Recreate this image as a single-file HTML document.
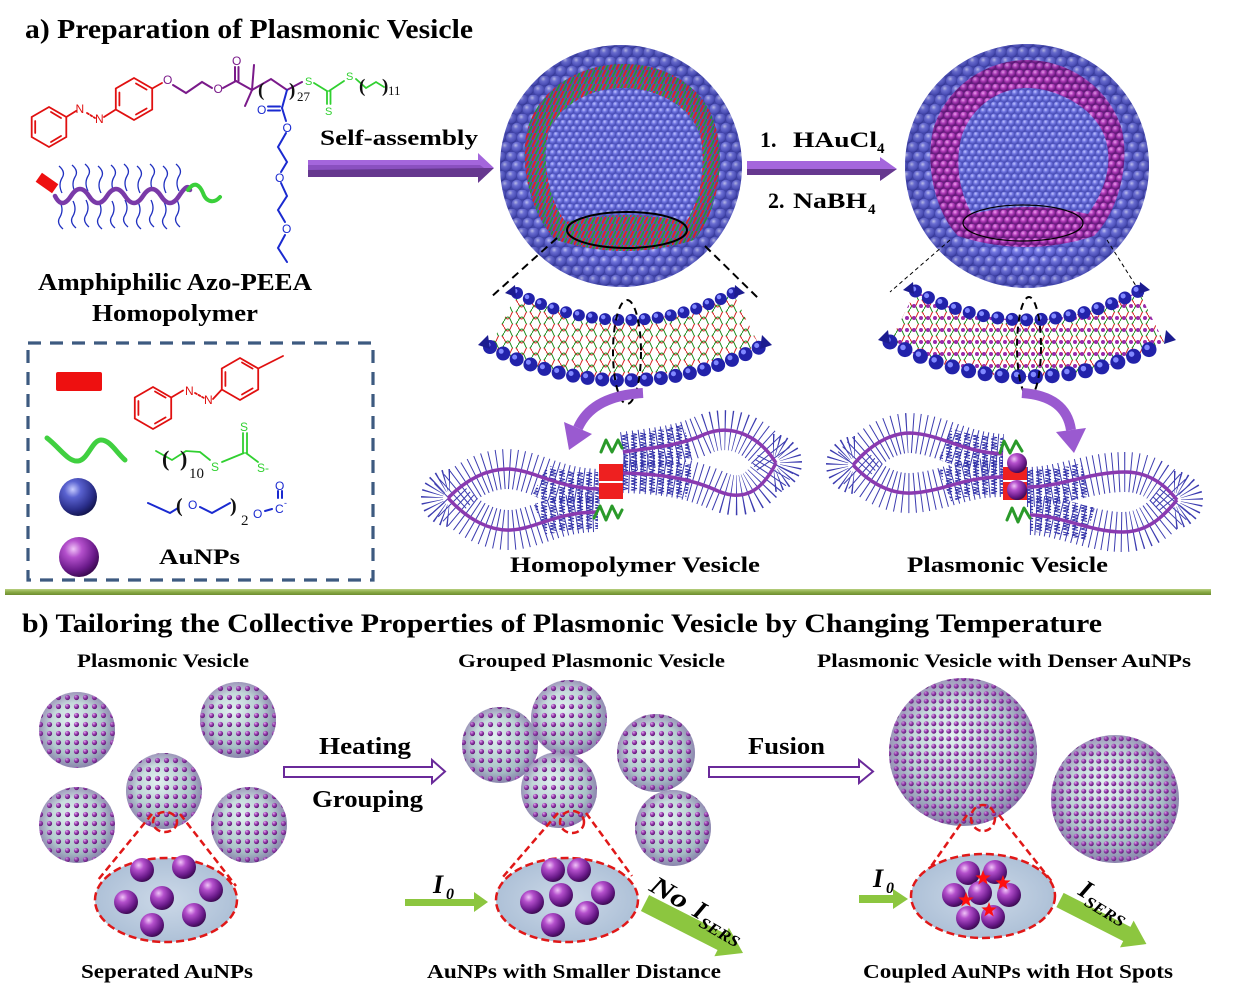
<!DOCTYPE html>
<html><head><meta charset="utf-8"><style>
html,body{margin:0;padding:0;background:#fff;}
svg{display:block;font-family:"Liberation Serif","Times New Roman",Times,serif;font-weight:bold;}
.sans{font-family:"Liberation Sans",Arial,sans-serif;font-weight:normal;}
.nw{font-weight:normal;}
</style></head><body>
<svg xmlns="http://www.w3.org/2000/svg" width="1235" height="999" viewBox="0 0 1235 999">
<defs>
 <radialGradient id="bball" cx="0.38" cy="0.32" r="0.7">
  <stop offset="0" stop-color="#d2d4ff"/><stop offset="0.35" stop-color="#7a7ee8"/><stop offset="0.8" stop-color="#5559c8"/><stop offset="1" stop-color="#3a3ea0"/>
 </radialGradient>
 <radialGradient id="bball2" cx="0.38" cy="0.32" r="0.7">
  <stop offset="0" stop-color="#c0c4ff"/><stop offset="0.45" stop-color="#7176e2"/><stop offset="1" stop-color="#4448b0"/>
 </radialGradient>
 <radialGradient id="mball" cx="0.38" cy="0.32" r="0.7">
  <stop offset="0" stop-color="#f0a0f0"/><stop offset="0.45" stop-color="#b03ab8"/><stop offset="1" stop-color="#5a1070"/>
 </radialGradient>
 <pattern id="pBlue" width="11" height="19" patternUnits="userSpaceOnUse">
  <rect width="11" height="19" fill="#4a4eb8"/>
  <circle cx="5.5" cy="4.75" r="5.4" fill="url(#bball)"/>
  <circle cx="0" cy="14.25" r="5.4" fill="url(#bball)"/>
  <circle cx="11" cy="14.25" r="5.4" fill="url(#bball)"/>
 </pattern>
 <pattern id="pBlue2" width="7" height="12" patternUnits="userSpaceOnUse">
  <rect width="7" height="12" fill="#4e54bc"/>
  <circle cx="3.5" cy="3" r="3.4" fill="url(#bball2)"/>
  <circle cx="0" cy="9" r="3.4" fill="url(#bball2)"/>
  <circle cx="7" cy="9" r="3.4" fill="url(#bball2)"/>
 </pattern>
 <pattern id="pMag" width="8" height="14" patternUnits="userSpaceOnUse">
  <rect width="8" height="14" fill="#6a2080"/>
  <circle cx="4" cy="3.5" r="3.9" fill="url(#mball)"/>
  <circle cx="0" cy="10.5" r="3.9" fill="url(#mball)"/>
  <circle cx="8" cy="10.5" r="3.9" fill="url(#mball)"/>
 </pattern>
 <pattern id="pRG" width="7" height="7" patternUnits="userSpaceOnUse">
  <rect width="7" height="7" fill="#5a56b0"/>
  <path d="M0,7 L3.5,0" stroke="#e82222" stroke-width="1.8"/>
  <path d="M3.5,7 L7,0" stroke="#28a428" stroke-width="1.6"/>
 </pattern>
 <radialGradient id="shadeA" cx="0.5" cy="0.5" r="0.5">
  <stop offset="0.7" stop-color="#101050" stop-opacity="0"/><stop offset="1" stop-color="#101050" stop-opacity="0.22"/>
 </radialGradient>
 <pattern id="pBil" width="14" height="12" patternUnits="userSpaceOnUse">
  <path d="M0,3 Q4,11 7,3 T14,3" fill="none" stroke="#d42020" stroke-width="1"/>
  <path d="M0,9 Q4,1 7,9 T14,9" fill="none" stroke="#1a8a1a" stroke-width="1"/>
 </pattern>
 <pattern id="pBil2" width="14" height="12" patternUnits="userSpaceOnUse">
  <path d="M0,3 Q4,11 7,3 T14,3" fill="none" stroke="#d42020" stroke-width="1"/>
  <path d="M0,9 Q4,1 7,9 T14,9" fill="none" stroke="#1a8a1a" stroke-width="1"/>
  <circle cx="4" cy="6" r="2" fill="#9a2aaa"/>
  <circle cx="11" cy="6" r="2" fill="#9a2aaa"/>
 </pattern>
 <pattern id="pCoil" width="9" height="9" patternUnits="userSpaceOnUse">
  <path d="M1,1 L7,2.5 L1,4 L7,5.5 L1,7 L7,8.5" fill="none" stroke="#3030a8" stroke-width="1"/>
 </pattern>
 <radialGradient id="gTeal" cx="0.42" cy="0.38" r="0.65">
  <stop offset="0" stop-color="#e2f0f0"/><stop offset="0.55" stop-color="#b6ced0"/><stop offset="1" stop-color="#92aab6"/>
 </radialGradient>
 <radialGradient id="pdot" cx="0.35" cy="0.3" r="0.7">
  <stop offset="0" stop-color="#e4b0f0"/><stop offset="0.5" stop-color="#9a3cb0"/><stop offset="1" stop-color="#5a1a70"/>
 </radialGradient>
 <pattern id="pDot" width="9" height="9" patternUnits="userSpaceOnUse">
  <circle cx="4.5" cy="4.5" r="2.6" fill="url(#pdot)"/>
 </pattern>
 <pattern id="pDot2" width="7.5" height="7.5" patternUnits="userSpaceOnUse">
  <circle cx="3.75" cy="3.75" r="2.5" fill="url(#pdot)"/>
 </pattern>
 <radialGradient id="edgeB" cx="0.5" cy="0.5" r="0.5">
  <stop offset="0.72" stop-color="#7a3a9a" stop-opacity="0"/><stop offset="1" stop-color="#7a3a9a" stop-opacity="0.35"/>
 </radialGradient>
 <radialGradient id="gPur" cx="0.36" cy="0.3" r="0.72">
  <stop offset="0" stop-color="#f0c4f8"/><stop offset="0.3" stop-color="#b450cc"/><stop offset="0.75" stop-color="#6a1a8a"/><stop offset="1" stop-color="#3c0a52"/>
 </radialGradient>
 <radialGradient id="gBlueBall" cx="0.36" cy="0.3" r="0.72">
  <stop offset="0" stop-color="#c8ccff"/><stop offset="0.3" stop-color="#5a62d0"/><stop offset="0.75" stop-color="#2a2e8a"/><stop offset="1" stop-color="#141650"/>
 </radialGradient>
 <linearGradient id="gLine" x1="0" y1="0" x2="0" y2="1">
  <stop offset="0" stop-color="#b8cf80"/><stop offset="0.5" stop-color="#8aab45"/><stop offset="1" stop-color="#6d8c30"/>
 </linearGradient>
 <radialGradient id="gEll" cx="0.5" cy="0.5" r="0.6">
  <stop offset="0" stop-color="#ccd9e8"/><stop offset="1" stop-color="#a8bcd4"/>
 </radialGradient>
 <path id="hu" d="M0,0 q-4,-8 0,-15 q4,-6 -3,-12" fill="none" stroke="#2030c0" stroke-width="1.3"/>
 <path id="hd" d="M0,0 q4,8 0,15 q-4,6 3,12" fill="none" stroke="#2030c0" stroke-width="1.3"/>
 <polygon id="star" points="0,-8 1.94,-2.67 7.61,-2.47 3.14,1.02 4.70,6.47 0,3.3 -4.70,6.47 -3.14,1.02 -7.61,-2.47 -1.94,-2.67" fill="#ff1010"/>
</defs>

<rect width="1235" height="999" fill="#fff"/>

<!-- ============ PART A ============ -->
<text x="25" y="38" font-size="27" textLength="448" lengthAdjust="spacingAndGlyphs">a) Preparation  of  Plasmonic  Vesicle</text>

<!-- chemical structure -->
<g fill="none" stroke-linecap="round" stroke-width="1.8">
 <g stroke="#e01010">
  <polygon points="49,107 66.3,117 66.3,137 49,147 31.7,137 31.7,117"/>
  <line x1="51" y1="112" x2="61" y2="118"/><line x1="61" y1="136" x2="51" y2="142"/><line x1="35.2" y1="133" x2="35.2" y2="121"/>
  <line x1="66.3" y1="117" x2="76" y2="111"/>
  <line x1="87" y1="113" x2="95" y2="118" stroke-dasharray="2 2"/>
  <line x1="104" y1="117" x2="115.8" y2="109.5"/>
  <polygon points="134,78 152.2,88.5 152.2,109.5 134,120 115.8,109.5 115.8,88.5"/>
  <line x1="136" y1="83.5" x2="146.6" y2="89.6"/><line x1="146.6" y1="108.5" x2="136" y2="114.5"/><line x1="119.4" y1="105.5" x2="119.4" y2="92.5"/>
  <line x1="152.2" y1="88.5" x2="162" y2="83"/>
 </g>
 <g stroke="#7a1a8a" stroke-width="2">
  <polyline points="173,85 186,93 202,82 212,88"/>
  <line x1="223" y1="88" x2="236" y2="81"/>
  <line x1="235" y1="81" x2="235" y2="67"/><line x1="238.5" y1="81" x2="238.5" y2="67"/>
  <line x1="236" y1="81" x2="252" y2="90"/>
  <line x1="252" y1="90" x2="254" y2="65"/>
  <line x1="252" y1="90" x2="245" y2="106"/>
  <polyline points="252,90 271,79 287,90 302,82"/>
 </g>
 <g stroke="#30d030">
  <line x1="314" y1="83" x2="327" y2="91"/>
  <line x1="327" y1="91" x2="327" y2="104"/><line x1="330.5" y1="91" x2="330.5" y2="104"/>
  <line x1="329" y1="91" x2="344" y2="81"/>
  <polyline points="356,79 366,88 376,82 384,87"/>
 </g>
 <g stroke="#1a2ad0" stroke-width="2">
  <line x1="287" y1="90" x2="282" y2="108"/>
  <line x1="268" y1="106.5" x2="280" y2="106.5"/><line x1="268" y1="110.5" x2="280" y2="110.5"/>
  <line x1="282" y1="108" x2="286" y2="121"/>
  <polyline points="286,133 278,147 287,162 281,172"/>
  <polyline points="281,183 287,196 278,210 285,222"/>
  <polyline points="285,235 278,248 287,262"/>
 </g>
</g>
<g font-size="12">
 <text class="sans" x="75.5" y="113" fill="#e01010">N</text>
 <text class="sans" x="95" y="123" fill="#e01010">N</text>
 <text class="sans" x="163" y="84" fill="#7a1a8a">O</text>
 <text class="sans" x="213.5" y="93" fill="#7a1a8a">O</text>
 <text class="sans" x="232" y="65" fill="#7a1a8a">O</text>
 <text class="sans" x="305" y="85" fill="#30d030" font-size="11">S</text>
 <text class="sans" x="325" y="115" fill="#30d030" font-size="11">S</text>
 <text class="sans" x="346" y="80" fill="#30d030" font-size="11">S</text>
 <text class="sans" x="257" y="114" fill="#1a2ad0">O</text>
 <text class="sans" x="282.5" y="132" fill="#1a2ad0">O</text>
 <text class="sans" x="275" y="182" fill="#1a2ad0">O</text>
 <text class="sans" x="282" y="233" fill="#1a2ad0">O</text>
</g>
<g font-size="19" fill="#111">
 <text x="258" y="96">(</text><text x="289" y="96">)</text>
 <text x="359" y="92">(</text><text x="382" y="92">)</text>
</g>
<g font-size="13" fill="#111">
 <text class="nw" x="297" y="101">27</text>
 <text class="nw" x="388" y="95">11</text>
</g>

<!-- polymer cartoon -->
<g>
 <use href="#hu" x="62" y="193"/><use href="#hu" x="75" y="192"/><use href="#hu" x="88" y="191"/><use href="#hu" x="101" y="193"/><use href="#hu" x="114" y="192"/><use href="#hu" x="127" y="191"/><use href="#hu" x="140" y="193"/><use href="#hu" x="153" y="191"/><use href="#hu" x="166" y="193"/><use href="#hu" x="179" y="191"/>
 <use href="#hd" x="60" y="202"/><use href="#hd" x="73" y="201"/><use href="#hd" x="86" y="200"/><use href="#hd" x="99" y="202"/><use href="#hd" x="112" y="201"/><use href="#hd" x="125" y="200"/><use href="#hd" x="138" y="202"/><use href="#hd" x="151" y="200"/><use href="#hd" x="164" y="202"/><use href="#hd" x="177" y="200"/>
 <path d="M55,196 Q62,210 71,196 T89,196 T107,196 T125,196 T143,196 T161,196 T179,196 T190,190" fill="none" stroke="#7a3aa8" stroke-width="4.5" stroke-linecap="round"/>
 <path d="M188,190 C195,180 200,186 203,193 C206,202 214,204 220,197" fill="none" stroke="#3ad03a" stroke-width="4" stroke-linecap="round"/>
 <rect x="37" y="177.5" width="20" height="11" fill="#ee1010" transform="rotate(35 47 183)"/>
</g>

<text x="38" y="290" font-size="24" textLength="274" lengthAdjust="spacingAndGlyphs">Amphiphilic Azo-PEEA</text>
<text x="92" y="321" font-size="24" textLength="166" lengthAdjust="spacingAndGlyphs">Homopolymer</text>

<!-- self-assembly arrow -->
<text x="320" y="145" font-size="22" textLength="158" lengthAdjust="spacingAndGlyphs">Self-assembly</text>
<polygon points="308,160 478,160 478,153 494,168 308,168" fill="#a466dc"/>
<polygon points="308,168 494,168 478,183 478,177 308,177" fill="#66388f"/>
<polygon points="308,165 480,165 484,168 308,170" fill="#8a50c0"/>

<!-- HAuCl4 arrow -->
<text x="760" y="147" font-size="22">1.</text>
<text x="793" y="147" font-size="22" textLength="84" lengthAdjust="spacingAndGlyphs">HAuCl</text>
<text x="877" y="153" font-size="15">4</text>
<text x="768" y="208" font-size="22">2.</text>
<text x="793" y="208" font-size="22" textLength="74" lengthAdjust="spacingAndGlyphs">NaBH</text>
<text x="868" y="214" font-size="15">4</text>
<polygon points="747,161 880,161 880,157 897,169 747,169" fill="#a466dc"/>
<polygon points="747,169 897,169 880,181 880,175 747,175" fill="#66388f"/>

<!-- sphere 1 -->
<circle cx="621" cy="166" r="121" fill="url(#pBlue)"/>
<path d="M556,240 C530,215 518,160 528,128 C540,88 580,64 624,64 C668,64 706,88 716,128 C726,165 716,215 694,240 Q625,262 556,240 Z" fill="url(#pRG)"/>
<path d="M566,222 C548,200 542,160 548,135 C558,105 590,88 623,88 C656,88 690,105 700,135 C706,160 702,200 686,222 Q626,208 566,222 Z" fill="url(#pBlue2)"/>
<circle cx="621" cy="166" r="121" fill="url(#shadeA)"/>
<ellipse cx="627" cy="230" rx="60" ry="18" fill="none" stroke="#000" stroke-width="2"/>

<!-- sphere 2 -->
<circle cx="1027" cy="166" r="122" fill="url(#pBlue)"/>
<path d="M958,236 C935,212 925,165 933,130 C945,88 985,60 1027,60 C1069,60 1110,88 1122,130 C1130,165 1118,212 1094,236 Q1026,258 958,236 Z" fill="url(#pMag)"/>
<path d="M972,214 C958,190 955,160 962,135 C973,105 1000,88 1027,88 C1054,88 1092,105 1104,135 C1114,160 1106,190 1088,214 Q1030,200 972,214 Z" fill="url(#pBlue2)"/>
<circle cx="1027" cy="166" r="122" fill="url(#shadeA)"/>
<ellipse cx="1023" cy="223" rx="60" ry="18" fill="none" stroke="#000" stroke-width="1.2"/>

<!-- dashed zoom lines -->
<g stroke="#000" fill="none">
 <line x1="557" y1="238" x2="490" y2="298" stroke-width="2" stroke-dasharray="8 5"/>
 <line x1="705" y1="246" x2="758" y2="298" stroke-width="2" stroke-dasharray="8 5"/>
 <line x1="950" y1="240" x2="890" y2="292" stroke-width="1" stroke-dasharray="4 3"/>
 <line x1="1107" y1="240" x2="1143" y2="297" stroke-width="1" stroke-dasharray="4 3"/>
</g>

<!-- bilayer 1 -->
<path d="M517,293 A230,230 0 0 0 733,293 L760,347 A290,290 0 0 1 490,347 Z" fill="url(#pBil)"/>
<path d="M517,293 A230,230 0 0 0 733,293" fill="none" stroke="#2222aa" stroke-width="12" stroke-dasharray="0 13.2" stroke-linecap="round"/>
<path d="M517,293 A230,230 0 0 0 733,293" fill="none" stroke="#8088ff" stroke-width="4.5" stroke-dasharray="0 13.2" stroke-linecap="round" transform="translate(-1.8,-2)"/>
<path d="M490,347 A290,290 0 0 0 760,347" fill="none" stroke="#2222aa" stroke-width="14" stroke-dasharray="0 14.7" stroke-linecap="round"/>
<path d="M490,347 A290,290 0 0 0 760,347" fill="none" stroke="#8088ff" stroke-width="5" stroke-dasharray="0 14.7" stroke-linecap="round" transform="translate(-2,-2.2)"/>
<path d="M478,345 l10,-10 l2,14 z M505,293 l10,-8 l1,12 z M772,345 l-10,-10 l-2,14 z M745,293 l-10,-8 l-1,12 z" fill="#1c1c90"/>
<ellipse cx="627" cy="352" rx="14" ry="52" fill="none" stroke="#000" stroke-width="2" stroke-dasharray="7 5"/>

<!-- bilayer 2 -->
<path d="M915.5,291 A230,230 0 0 0 1138.5,291 L1164,342 A287,287 0 0 1 890,342 Z" fill="url(#pBil2)"/>
<path d="M915.5,291 A230,230 0 0 0 1138.5,291" fill="none" stroke="#2222aa" stroke-width="13" stroke-dasharray="0 14.5" stroke-linecap="round"/>
<path d="M915.5,291 A230,230 0 0 0 1138.5,291" fill="none" stroke="#8088ff" stroke-width="5" stroke-dasharray="0 14.5" stroke-linecap="round" transform="translate(-1.8,-2)"/>
<path d="M890,342 A287,287 0 0 0 1164,342" fill="none" stroke="#2222aa" stroke-width="15" stroke-dasharray="0 16.8" stroke-linecap="round"/>
<path d="M890,342 A287,287 0 0 0 1164,342" fill="none" stroke="#8088ff" stroke-width="5.5" stroke-dasharray="0 16.8" stroke-linecap="round" transform="translate(-2,-2.2)"/>
<path d="M878,340 l10,-10 l2,14 z M903,290 l10,-8 l1,12 z M1176,340 l-10,-10 l-2,14 z M1150,290 l-10,-8 l-1,12 z" fill="#1c1c90"/>
<ellipse cx="1029" cy="347" rx="12" ry="50" fill="none" stroke="#000" stroke-width="2" stroke-dasharray="7 5"/>

<!-- curved arrows -->
<path d="M643,393 Q592,396 578,428" fill="none" stroke="#9a5ad0" stroke-width="10"/>
<polygon points="592,434 564,422 569,450" fill="#9a5ad0"/>
<path d="M1022,393 Q1066,396 1071,430" fill="none" stroke="#9a5ad0" stroke-width="10"/>
<polygon points="1086,428 1056,432 1074,453" fill="#9a5ad0"/>

<!-- vesicle cartoon 1 -->
<g fill="none" stroke="#3c3cb0" stroke-width="40" stroke-dasharray="1 4.8">
 <path d="M448,498 C468,478 488,469 508,469 C535,470 555,488 599,489"/>
 <path d="M448,498 C468,520 490,531 511,530 C535,529 556,512 598,512"/>
 <path d="M623,452 C650,448 680,446 705,434 C735,422 762,440 776,463"/>
 <path d="M623,473 C660,474 690,478 718,491 C748,504 765,485 776,463"/>
</g>
<g fill="none" stroke="#3c3cb0" stroke-width="22" stroke-dasharray="1 3.5">
 <path d="M450,480 A18,18 0 0 0 450,516"/>
 <path d="M773,445 A18,18 0 0 1 773,481"/>
</g>
<g fill="none" stroke="url(#pCoil)" stroke-width="34">
 <path d="M540,480 C560,490 580,490 599,489"/>
 <path d="M540,520 C560,512 580,512 598,512"/>
 <path d="M623,452 C645,449 665,447 688,441"/>
 <path d="M623,473 C645,474 665,476 690,482"/>
</g>
<g fill="none" stroke="#8a3ab0" stroke-width="3.5">
 <path d="M448,498 C468,478 488,469 508,469 C535,470 555,488 599,489"/>
 <path d="M448,498 C468,520 490,531 511,530 C535,529 556,512 598,512"/>
 <path d="M623,452 C650,448 680,446 705,434 C735,422 762,440 776,463"/>
 <path d="M623,473 C660,474 690,478 718,491 C748,504 765,485 776,463"/>
</g>
<rect x="599" y="464" width="24" height="17" fill="#ee2020"/>
<rect x="599" y="483" width="24" height="16" fill="#ee2020"/>
<g fill="none" stroke="#2a9a2a" stroke-width="3" stroke-linejoin="round" stroke-linecap="round">
 <path d="M601,452 L606,440 L612,452 L618,440 L622,448"/>
 <path d="M594,518 L600,506 L606,520 L612,506 L618,518 L622,510"/>
</g>
<text x="510" y="572" font-size="22" textLength="250" lengthAdjust="spacingAndGlyphs">Homopolymer Vesicle</text>

<!-- vesicle cartoon 2 -->
<g fill="none" stroke="#3c3cb0" stroke-width="40" stroke-dasharray="1 4.8">
 <path d="M853,465 C870,445 890,433 910,433 C940,434 962,452 1003,454"/>
 <path d="M853,465 C872,485 892,494 912,493 C945,491 962,477 1003,477"/>
 <path d="M1027,487 C1060,487 1090,472 1125,472 C1150,472 1166,486 1177,500"/>
 <path d="M1030,515 C1060,515 1090,532 1123,532 C1150,532 1166,513 1177,500"/>
</g>
<g fill="none" stroke="#3c3cb0" stroke-width="22" stroke-dasharray="1 3.5">
 <path d="M855,447 A18,18 0 0 0 855,483"/>
 <path d="M1174,482 A18,18 0 0 1 1174,518"/>
</g>
<g fill="none" stroke="url(#pCoil)" stroke-width="34">
 <path d="M945,444 C965,452 985,454 1003,454"/>
 <path d="M945,486 C965,478 985,477 1003,477"/>
 <path d="M1027,487 C1045,487 1065,485 1085,480"/>
 <path d="M1030,515 C1050,515 1070,518 1090,524"/>
</g>
<g fill="none" stroke="#8a3ab0" stroke-width="3.5">
 <path d="M853,465 C870,445 890,433 910,433 C940,434 962,452 1003,454"/>
 <path d="M853,465 C872,485 892,494 912,493 C945,491 962,477 1003,477"/>
 <path d="M1027,487 C1060,487 1090,472 1125,472 C1150,472 1166,486 1177,500"/>
 <path d="M1030,515 C1060,515 1090,532 1123,532 C1150,532 1166,513 1177,500"/>
</g>
<rect x="1003" y="467" width="24" height="13" fill="#ee2020"/>
<rect x="1003" y="482" width="24" height="18" fill="#ee2020"/>
<circle cx="1017" cy="463" r="10" fill="url(#gPur)"/>
<circle cx="1017" cy="490" r="10" fill="url(#gPur)"/>
<g fill="none" stroke="#2a9a2a" stroke-width="3" stroke-linejoin="round" stroke-linecap="round">
 <path d="M1000,453 L1004,441 L1010,453 L1016,441 L1022,451"/>
 <path d="M1007,520 L1012,508 L1018,522 L1024,508 L1030,518"/>
</g>
<text x="907" y="572" font-size="22" textLength="201" lengthAdjust="spacingAndGlyphs">Plasmonic Vesicle</text>

<!-- legend box -->
<rect x="28" y="343" width="345" height="237" fill="none" stroke="#3d5a80" stroke-width="3.2" stroke-dasharray="13 9"/>
<rect x="56" y="372" width="46" height="19" rx="2" fill="#ee1010"/>
<g fill="none" stroke="#e01010" stroke-width="1.8" stroke-linecap="round">
 <polygon points="153,387 171.2,397.5 171.2,418.5 153,429 134.8,418.5 134.8,397.5"/>
 <line x1="155" y1="391.5" x2="165.6" y2="397.6"/><line x1="165.6" y1="417.4" x2="155" y2="423.5"/><line x1="138.4" y1="415" x2="138.4" y2="401"/>
 <line x1="171.2" y1="397.5" x2="183" y2="390.5"/>
 <line x1="195" y1="393" x2="204" y2="398" stroke-dasharray="2 2"/>
 <line x1="213" y1="399" x2="221.8" y2="389.5"/>
 <polygon points="240,358 258.2,368.5 258.2,389.5 240,400 221.8,389.5 221.8,368.5"/>
 <line x1="242" y1="362.5" x2="252.6" y2="368.6"/><line x1="252.6" y1="388.4" x2="242" y2="394.5"/><line x1="225.4" y1="386" x2="225.4" y2="372"/>
 <line x1="258.2" y1="368.5" x2="283" y2="356"/>
</g>
<g font-size="12" fill="#e01010">
 <text class="sans" x="185" y="395">N</text><text class="sans" x="204" y="404">N</text>
</g>
<path d="M47,438 C60,448 68,462 78,461 C88,460 92,440 101,440 C110,440 116,452 125,460" fill="none" stroke="#40d040" stroke-width="5" stroke-linecap="round"/>
<g fill="none" stroke="#30d030" stroke-width="1.8" stroke-linecap="round">
 <polyline points="156,451 172,460 186,451 200,452 210,460"/>
 <line x1="222" y1="462" x2="244" y2="453"/>
 <line x1="243" y1="453" x2="243" y2="433"/><line x1="247" y1="453" x2="247" y2="433"/>
 <line x1="246" y1="453" x2="258" y2="462"/>
</g>
<g font-size="12" fill="#30d030">
 <text class="sans" x="211" y="471">S</text><text class="sans" x="240" y="431">S</text><text class="sans" x="257" y="472">S-</text>
</g>
<text x="162" y="466" font-size="22" fill="#111">(</text><text x="180" y="466" font-size="22" fill="#111">)</text>
<text class="nw" x="189" y="478" font-size="15" fill="#111">10</text>
<circle cx="78" cy="497" r="19" fill="url(#gBlueBall)"/>
<g fill="none" stroke="#1a2ad0" stroke-width="2" stroke-linecap="round">
 <polyline points="148,503 170,513 178,508"/>
 <polyline points="200,507 212,513 230,503"/>
 <line x1="265" y1="511" x2="272" y2="509"/>
 <line x1="278" y1="491" x2="278" y2="498"/><line x1="282" y1="491" x2="282" y2="498"/>
</g>
<g font-size="12" fill="#1a2ad0">
 <text class="sans" x="188" y="509">O</text><text class="sans" x="253" y="518">O</text><text class="sans" x="275" y="513">C</text><text class="sans" x="275" y="490">O</text><text class="sans" x="284" y="506" font-size="9">-</text>
</g>
<text x="176" y="512" font-size="20" fill="#111">(</text><text x="230" y="512" font-size="20" fill="#111">)</text>
<text class="nw" x="241" y="525" font-size="15" fill="#111">2</text>
<circle cx="79" cy="557" r="20" fill="url(#gPur)"/>
<text x="159" y="564" font-size="22" textLength="81" lengthAdjust="spacingAndGlyphs">AuNPs</text>

<!-- separator -->
<rect x="5" y="589" width="1206" height="6" fill="url(#gLine)"/>

<!-- ============ PART B ============ -->
<text x="22" y="632" font-size="26" textLength="1080" lengthAdjust="spacingAndGlyphs">b) Tailoring  the  Collective  Properties  of  Plasmonic  Vesicle  by  Changing  Temperature</text>
<text x="77" y="667" font-size="19" textLength="172" lengthAdjust="spacingAndGlyphs">Plasmonic Vesicle</text>
<text x="458" y="667" font-size="19" textLength="267" lengthAdjust="spacingAndGlyphs">Grouped Plasmonic Vesicle</text>
<text x="817" y="667" font-size="19" textLength="374" lengthAdjust="spacingAndGlyphs">Plasmonic Vesicle  with  Denser AuNPs</text>

<!-- small spheres group 1 -->
<g>
 <circle cx="77" cy="730" r="38" fill="url(#gTeal)"/><circle cx="77" cy="730" r="38" fill="url(#pDot)"/><circle cx="77" cy="730" r="38" fill="url(#edgeB)"/>
 <circle cx="238" cy="720" r="38" fill="url(#gTeal)"/><circle cx="238" cy="720" r="38" fill="url(#pDot)"/><circle cx="238" cy="720" r="38" fill="url(#edgeB)"/>
 <circle cx="164" cy="791" r="38" fill="url(#gTeal)"/><circle cx="164" cy="791" r="38" fill="url(#pDot)"/><circle cx="164" cy="791" r="38" fill="url(#edgeB)"/>
 <circle cx="77" cy="825" r="38" fill="url(#gTeal)"/><circle cx="77" cy="825" r="38" fill="url(#pDot)"/><circle cx="77" cy="825" r="38" fill="url(#edgeB)"/>
 <circle cx="249" cy="825" r="38" fill="url(#gTeal)"/><circle cx="249" cy="825" r="38" fill="url(#pDot)"/><circle cx="249" cy="825" r="38" fill="url(#edgeB)"/>
</g>
<!-- group 2 -->
<g>
 <circle cx="500" cy="745" r="38" fill="url(#gTeal)"/><circle cx="500" cy="745" r="38" fill="url(#pDot)"/><circle cx="500" cy="745" r="38" fill="url(#edgeB)"/>
 <circle cx="569" cy="718" r="38" fill="url(#gTeal)"/><circle cx="569" cy="718" r="38" fill="url(#pDot)"/><circle cx="569" cy="718" r="38" fill="url(#edgeB)"/>
 <circle cx="559" cy="790" r="38" fill="url(#gTeal)"/><circle cx="559" cy="790" r="38" fill="url(#pDot)"/><circle cx="559" cy="790" r="38" fill="url(#edgeB)"/>
 <circle cx="656" cy="753" r="39" fill="url(#gTeal)"/><circle cx="656" cy="753" r="39" fill="url(#pDot)"/><circle cx="656" cy="753" r="39" fill="url(#edgeB)"/>
 <circle cx="673" cy="828" r="38" fill="url(#gTeal)"/><circle cx="673" cy="828" r="38" fill="url(#pDot)"/><circle cx="673" cy="828" r="38" fill="url(#edgeB)"/>
</g>
<!-- fused -->
<g>
 <circle cx="963" cy="752" r="74" fill="url(#gTeal)"/><circle cx="963" cy="752" r="74" fill="url(#pDot2)"/><circle cx="963" cy="752" r="74" fill="url(#edgeB)"/>
 <circle cx="1115" cy="799" r="64" fill="url(#gTeal)"/><circle cx="1115" cy="799" r="64" fill="url(#pDot2)"/><circle cx="1115" cy="799" r="64" fill="url(#edgeB)"/>
</g>

<!-- hollow arrows -->
<polygon points="284,767 432,767 432,760 445,771.5 432,783 432,777 284,777" fill="#fff" stroke="#6a2a9a" stroke-width="2"/>
<text x="319" y="754" font-size="24" textLength="92" lengthAdjust="spacingAndGlyphs">Heating</text>
<text x="312" y="807" font-size="24" textLength="111" lengthAdjust="spacingAndGlyphs">Grouping</text>
<polygon points="709,767 859,767 859,760 873,771.5 859,783 859,777 709,777" fill="#fff" stroke="#6a2a9a" stroke-width="2"/>
<text x="748" y="754" font-size="24" textLength="77" lengthAdjust="spacingAndGlyphs">Fusion</text>

<!-- zoom ellipses -->
<g fill="none" stroke="#e01818" stroke-width="2.5" stroke-dasharray="7 4">
 <ellipse cx="165" cy="822" rx="12" ry="10"/>
 <line x1="152" y1="814" x2="98" y2="880"/><line x1="180" y1="814" x2="236" y2="886"/>
 <ellipse cx="572" cy="822" rx="12" ry="11"/>
 <line x1="558" y1="813" x2="502" y2="878"/><line x1="586" y1="813" x2="632" y2="876"/>
 <ellipse cx="983" cy="818" rx="12" ry="13"/>
 <line x1="967" y1="815" x2="920" y2="882"/><line x1="999" y1="815" x2="1053" y2="883"/>
</g>
<g stroke="#e01818" stroke-width="2.5" stroke-dasharray="8 4">
 <ellipse cx="166" cy="900" rx="71" ry="42" fill="url(#gEll)"/>
 <ellipse cx="567" cy="900" rx="71" ry="42" fill="url(#gEll)"/>
 <ellipse cx="983" cy="896" rx="72" ry="42" fill="url(#gEll)"/>
</g>
<g fill="url(#gPur)">
 <circle cx="142" cy="870" r="12"/><circle cx="184" cy="867" r="12"/><circle cx="126" cy="902" r="12"/><circle cx="162" cy="898" r="12"/><circle cx="211" cy="890" r="12"/><circle cx="152" cy="925" r="12"/><circle cx="194" cy="915" r="12"/>
 <circle cx="553" cy="870" r="12"/><circle cx="579" cy="870" r="12"/><circle cx="532" cy="902" r="12"/><circle cx="561" cy="895" r="12"/><circle cx="603" cy="893" r="12"/><circle cx="553" cy="925" r="12"/><circle cx="587" cy="913" r="12"/>
 <circle cx="968" cy="873" r="12"/><circle cx="995" cy="872" r="12"/><circle cx="954" cy="895" r="12"/><circle cx="980" cy="893" r="12"/><circle cx="1009" cy="895" r="12"/><circle cx="968" cy="918" r="12"/><circle cx="993" cy="917" r="12"/>
</g>
<use href="#star" x="983" y="878"/><use href="#star" x="1003" y="883"/><use href="#star" x="966" y="900"/><use href="#star" x="989" y="910"/>

<!-- green arrows -->
<polygon points="405,899 474,899 474,892 488,902 474,912 474,906 405,906" fill="#8cc63f"/>
<polygon points="859,895 893,895 893,889 908,899 893,909 893,903 859,903" fill="#8cc63f"/>
<g transform="translate(645,903) rotate(27)"><polygon points="0,-9 86,-9 86,-16 110,0 86,16 86,9 0,9" fill="#8cc63f"/></g>
<g transform="translate(1060,900) rotate(27)"><polygon points="0,-8 75,-8 75,-15 97,0 75,15 75,8 0,8" fill="#8cc63f"/></g>

<g font-style="italic">
 <text x="433" y="893" font-size="26">I</text><text x="446" y="899" font-size="16">0</text>
 <text x="873" y="887" font-size="26">I</text><text x="886" y="893" font-size="16">0</text>
 <g transform="translate(648,890) rotate(30)">
  <text x="0" y="0" font-size="26" textLength="40" lengthAdjust="spacingAndGlyphs">No</text>
  <text x="50" y="0" font-size="26">I</text>
  <text x="61" y="6" font-size="16" textLength="44" lengthAdjust="spacingAndGlyphs">SERS</text>
 </g>
 <g transform="translate(1077,894) rotate(31)">
  <text x="0" y="0" font-size="26">I</text>
  <text x="11" y="6" font-size="16" textLength="44" lengthAdjust="spacingAndGlyphs">SERS</text>
 </g>
</g>

<text x="81" y="978" font-size="20" textLength="172" lengthAdjust="spacingAndGlyphs">Seperated AuNPs</text>
<text x="427" y="978" font-size="20" textLength="294" lengthAdjust="spacingAndGlyphs">AuNPs with Smaller Distance</text>
<text x="863" y="978" font-size="20" textLength="310" lengthAdjust="spacingAndGlyphs">Coupled AuNPs with Hot Spots</text>
</svg>
</body></html>
